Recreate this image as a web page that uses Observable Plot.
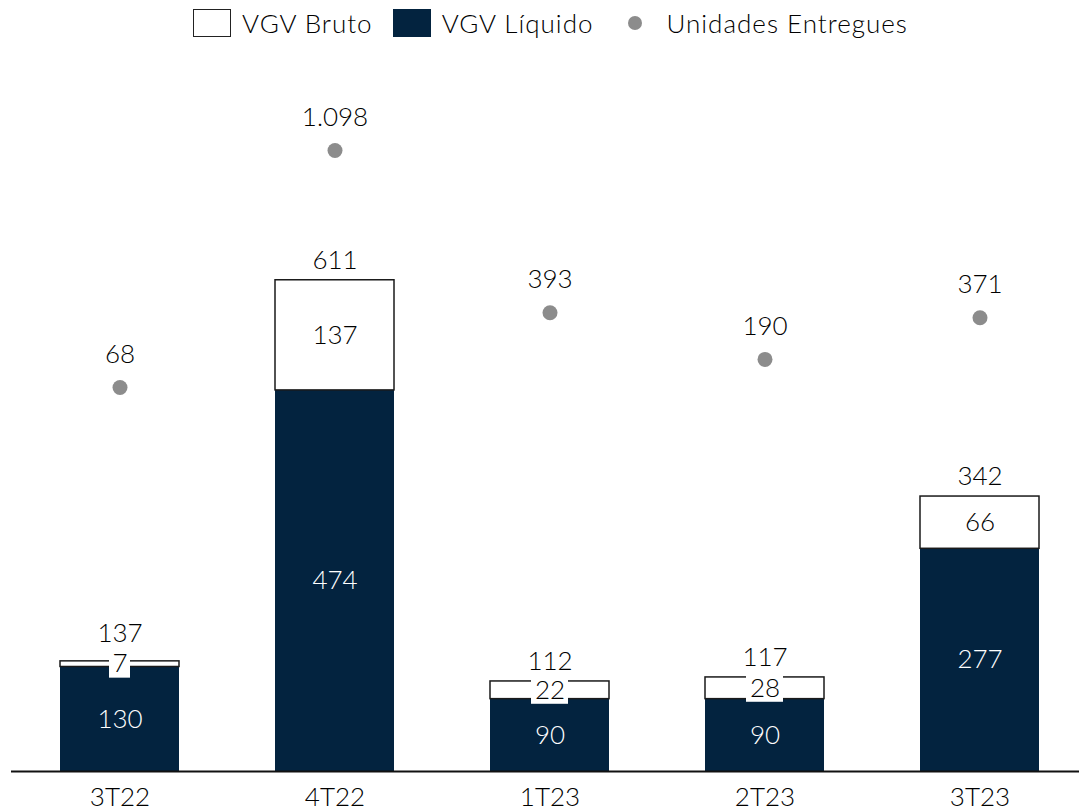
<!DOCTYPE html>
<html>
<head>
<meta charset="utf-8">
<script src="https://cdn.jsdelivr.net/npm/d3@7"></script>
<script src="https://cdn.jsdelivr.net/npm/@observablehq/plot@0.6"></script>
<style>
  html, body { margin: 0; padding: 0; background: #fff; }
  body { width: 1079px; height: 812px; overflow: hidden; font-family: Lato, sans-serif; font-weight: 300; }
  .legend { height: 45px; display: flex; align-items: center; justify-content: flex-start; padding-left: 193px; font-size: 26px; color: #000; letter-spacing: 1px; box-sizing: border-box; }
  .item { display: flex; align-items: center; margin-right: 20px; }
  .sw { width: 38px; height: 28px; box-sizing: border-box; margin-right: 11px; }
  .dotsw { width: 14px; height: 14px; border-radius: 50%; background: #8c8c8c; margin: 0 24px 0 15px; }
</style>
</head>
<body>
<div class="legend">
  <div class="item"><div class="sw" style="background:#fff;border:1.5px solid #222"></div><span>VGV Bruto</span></div>
  <div class="item"><div class="sw" style="background:#03233f"></div><span>VGV Líquido</span></div>
  <div class="item"><div class="dotsw"></div><span>Unidades Entregues</span></div>
</div>
<div id="chart"></div>
<script>
const quarters = ["3T22", "4T22", "1T23", "2T23", "3T23"];
const vgvBruto = [137, 611, 112, 117, 342];
const vgvLiquido = [130, 474, 90, 90, 277];
const vgvDiferenca = [7, 137, 22, 28, 66];
const unidades = [68, 1098, 393, 190, 371];

const navy = "#03233f";
const gray = "#8c8c8c";
// secondary scale for units, expressed in the bar y units
const dotOffset = 458.2;
const dotScale = 0.2862;

const ptBR = d3.formatLocale({decimal: ",", thousands: ".", grouping: [3], currency: ["R$", ""]});
const fmt = ptBR.format(",d");

const data = quarters.map((q, i) => ({
  q, bruto: vgvBruto[i], liq: vgvLiquido[i], diff: vgvDiferenca[i], units: unidades[i]
}));
const small1 = data.filter(d => d.diff < 37 && String(d.diff).length === 1);
const small2 = data.filter(d => d.diff < 37 && String(d.diff).length === 2);
const tiny = data.filter(d => d.diff < 10);
const rest = data.filter(d => d.diff >= 10);
const boxHalf = 17.4;

const chart = Plot.plot({
  width: 1079,
  height: 767,
  marginTop: 0,
  marginBottom: 41,
  marginLeft: 11,
  marginRight: 0,
  style: {fontFamily: "Lato, sans-serif", fontWeight: 300, fontSize: "26px", color: "#000", background: "#fff"},
  x: {domain: quarters, paddingInner: 0.447, paddingOuter: 0.202, align: 0.546, label: null},
  y: {domain: [0, 903], axis: null},
  marks: [
    Plot.barY(data, {x: "q", y1: 0, y2: "liq", fill: navy}),
    Plot.barY(data, {x: "q", y1: "liq", y2: "bruto", fill: "white", stroke: "#1a1a1a", strokeWidth: 1.5}),
    Plot.ruleY([0], {stroke: "#111", strokeWidth: 2}),
    Plot.barY(small1, {x: "q", y1: d => (d.liq + d.bruto) / 2 - boxHalf, y2: d => (d.liq + d.bruto) / 2 + boxHalf, fill: "white", insetLeft: 49, insetRight: 49}),
    Plot.barY(small2, {x: "q", y1: d => (d.liq + d.bruto) / 2 - boxHalf, y2: d => (d.liq + d.bruto) / 2 + boxHalf, fill: "white", insetLeft: 41, insetRight: 41}),
    Plot.text(data, {x: "q", y: d => d.liq / 2, text: d => fmt(d.liq), fill: "white", lineAnchor: "middle"}),
    Plot.text(data, {x: "q", y: d => (d.liq + d.bruto) / 2, text: d => fmt(d.diff), fill: "#000", lineAnchor: "middle"}),
    Plot.text(rest, {x: "q", y: "bruto", text: d => fmt(d.bruto), fill: "#000", lineAnchor: "middle", dy: -20}),
    Plot.text(tiny, {x: "q", y: "bruto", text: d => fmt(d.bruto), fill: "#000", lineAnchor: "middle", dy: -28}),
    Plot.dot(data, {x: "q", y: d => dotOffset + dotScale * d.units, r: 7.5, fill: gray, stroke: null}),
    Plot.text(data, {x: "q", y: d => dotOffset + dotScale * d.units, text: d => fmt(d.units), fill: "#000", lineAnchor: "middle", dy: -33}),
    Plot.axisX({tickSize: 0, tickPadding: 16, fontSize: 26, fill: "#000", label: null})
  ]
});
document.getElementById("chart").appendChild(chart);
</script>
</body>
</html>
